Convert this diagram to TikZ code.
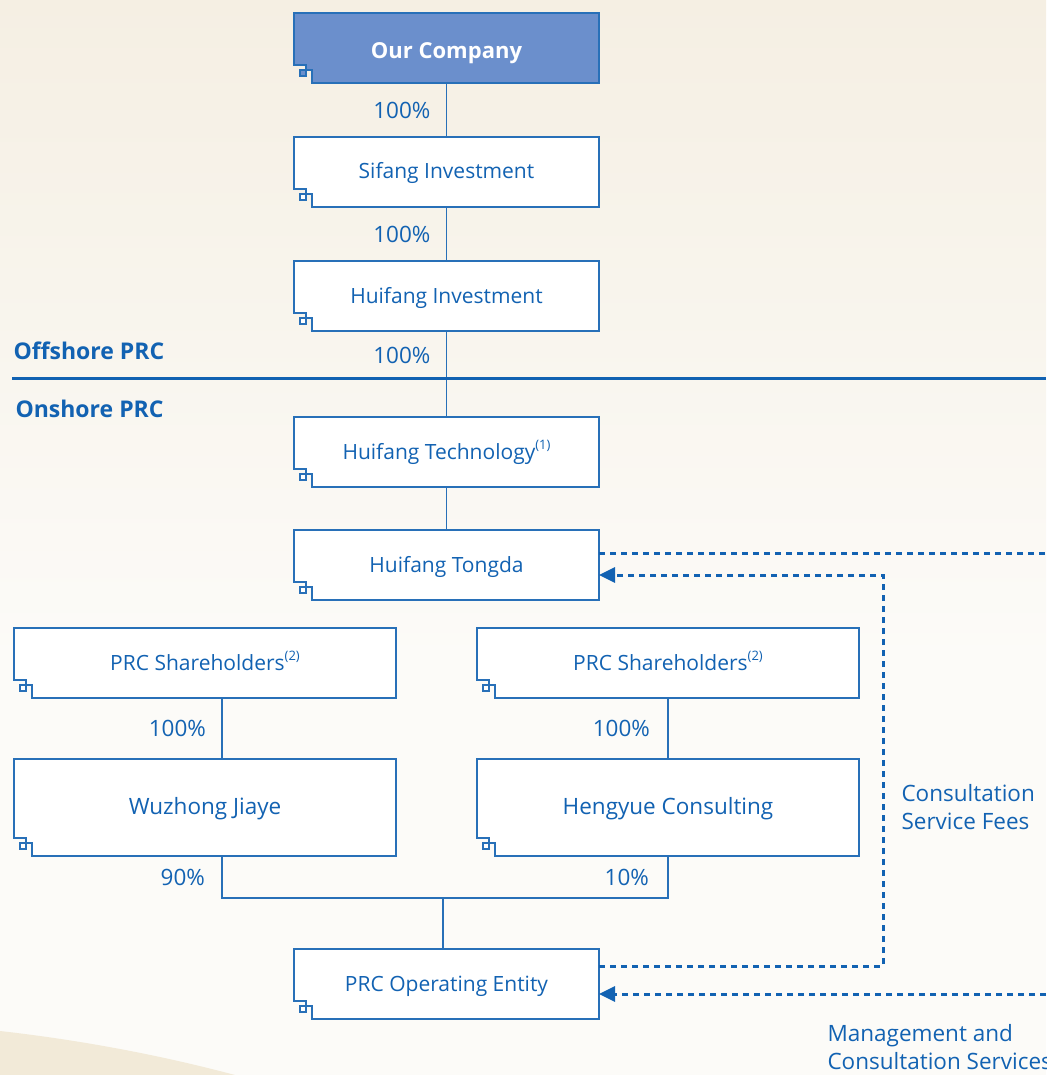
\documentclass[tikz,border=0pt]{standalone}
\usepackage{fontspec}
\setmainfont{Open Sans}
\usetikzlibrary{arrows.meta,backgrounds}

\definecolor{orgblue}{RGB}{18,98,178}
\definecolor{boxblue}{RGB}{40,112,184}
\definecolor{compfill}{RGB}{107,143,204}
\definecolor{creamtop}{RGB}{245,239,227}
\definecolor{creamlow}{RGB}{252,251,248}
\definecolor{swoosh}{RGB}{242,234,216}

\newcommand\fnmark[1]{\raisebox{.45em}{\fontsize{13pt}{13pt}\selectfont(#1)}}

\tikzset{
  entity/.style={minimum width=305pt, minimum height=70pt, inner sep=0pt, outer sep=0pt,
    text height=18pt, text depth=4pt, text=orgblue, font=\fontsize{21pt}{25pt}\selectfont},
  wide/.style={entity, minimum width=382pt},
  tall/.style={wide, minimum height=97pt, font=\fontsize{22.5pt}{26pt}\selectfont},
  boxline/.style={draw=boxblue, line width=1.5pt},
  link/.style={draw=boxblue, line width=1.5pt},
  pct/.style={text=orgblue, font=\fontsize{22.5pt}{26pt}\selectfont},
  flow/.style={draw=orgblue, line width=3pt, dash pattern=on 6pt off 5pt},
  region/.style={text=orgblue, font=\bfseries\fontsize{23pt}{27pt}\selectfont, anchor=west},
  note/.style={text=orgblue, font=\fontsize{22.5pt}{28pt}\selectfont, align=left, anchor=north west},
}

\begin{document}
\begin{tikzpicture}[x=1pt,y=-1pt]
\useasboundingbox (0,0) rectangle (1046,1075);

% ownership chain
\node[entity, text=white, text height=25pt, text depth=3pt,
  font=\bfseries\fontsize{22pt}{26pt}\selectfont] (comp) at (446.5,48) {Our Company};
\node[entity] (sifang) at (446.5,172) {Sifang Investment};
\node[entity] (huiinv) at (446.5,296) {Huifang Investment};
\node[entity] (huitech) at (446.5,452) {Huifang Technology\fnmark{1}};
\node[entity] (tongda) at (446.5,565) {Huifang Tongda};
\node[wide] (shL) at (205,663) {PRC Shareholders\fnmark{2}};
\node[wide] (shR) at (668,663) {PRC Shareholders\fnmark{2}};
\node[tall] (wuzhong) at (205,807.5) {Wuzhong Jiaye};
\node[tall] (hengyue) at (668,807.5) {Hengyue Consulting};
\node[entity] (opent) at (446.5,984) {PRC Operating Entity};

\draw[link] (comp) -- node[pct, left=12pt] {100\%} (sifang);
\draw[link] (sifang) -- node[pct, left=12pt] {100\%} (huiinv);
\draw[link] (huiinv) -- node[pct, left=12pt, pos=.28] {100\%} (huitech);
\draw[link] (huitech) -- (tongda);

\draw[link] ([xshift=17pt]shL.south) -- node[pct, left=12pt] {100\%} ([xshift=17pt]wuzhong.north);
\draw[link] (shR) -- node[pct, left=14pt] {100\%} (hengyue);

% 90/10 join into the operating entity
\coordinate (join) at (443,898);
\draw[link] ([xshift=17pt]wuzhong.south) |- node[pct, left=13pt, pos=.25] {90\%} (join)
  -| node[pct, left=15pt, pos=.75] {10\%} (hengyue.south);
\draw[link] (join) -- (join |- opent.north);

% offshore / onshore divider
\coordinate (divL) at (12,378);
\coordinate (divR) at (1046,378);
\draw[orgblue, line width=3pt] (divL) -- (divR);
\node[region] (off) at (10,351) {Offshore PRC};
\node[region] (on) at (12,409) {Onshore PRC};

% contractual flows
\coordinate (feeOut) at (1046,553);
\coordinate (svcIn) at (1046,994);
\draw[flow] ([yshift=12pt]tongda.east) -- (feeOut);
\draw[flow, -{Triangle[length=16pt,width=15pt]}] ([yshift=18pt]opent.east) -- ++(284,0)
  |- ([yshift=-10pt]tongda.east);
\draw[flow, -{Triangle[length=16pt,width=15pt]}] (svcIn) -- ([yshift=-10pt]opent.east);
\node[note] (fees) at (898,781) {Consultation\\Service Fees};
\node[note] (svc) at (824,1021) {Management and\\Consultation Services};

\begin{pgfonlayer}{background}
  \fill[creamlow] (0,0) rectangle (1046,1075);
  \shade[top color=creamtop, bottom color=creamlow] (0,0) rectangle (1046,660);
  \fill[swoosh] (0,1031) .. controls (80,1040) and (160,1055) .. (235,1075) -- (0,1075) -- cycle;
  % box outlines with the stepped corner
  \foreach \n/\c in {comp/compfill, sifang/white, huiinv/white, huitech/white, tongda/white,
      shL/white, shR/white, wuzhong/white, hengyue/white, opent/white}
    \filldraw[boxline, fill=\c] (\n.north west) -- (\n.north east) -- (\n.south east)
      -- ([xshift=18pt]\n.south west) -- ([xshift=18pt,yshift=13pt]\n.south west)
      -- ([xshift=12pt,yshift=13pt]\n.south west) -- ([xshift=12pt,yshift=18pt]\n.south west)
      -- ([yshift=18pt]\n.south west) -- cycle
      ([xshift=6pt,yshift=7pt]\n.south west) rectangle ([xshift=12pt,yshift=13pt]\n.south west);
\end{pgfonlayer}
\end{tikzpicture}
\end{document}
